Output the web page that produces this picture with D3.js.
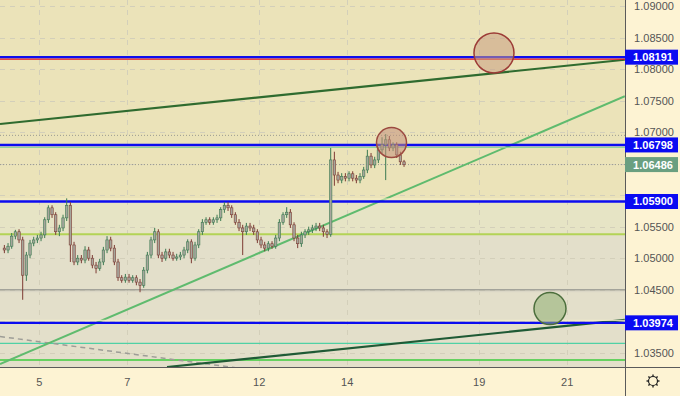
<!DOCTYPE html>
<html>
<head>
<meta charset="utf-8">
<script src="https://cdn.jsdelivr.net/npm/d3@7/dist/d3.min.js"></script>
<style>
body { margin: 0; background: #fdf3d3; }
svg { display: block; font-family: "Liberation Sans", Arial, sans-serif; }
</style>
</head>
<body>
<div id="chart"></div>
<script>
// trading days counted from Mon 5th (weekends skipped)
var dayTicks = [0, 2, 5, 7, 10, 12];
var dayLabels = ['5', '7', '12', '14', '19', '21'];
var priceTicks = [1.035, 1.04, 1.045, 1.05, 1.055, 1.06, 1.065, 1.07, 1.075, 1.08, 1.085, 1.09];

// 2h candles starting Fri 04:00; open of candle k = path[k], close = path[k+1]
var startDay = -0.8333, candleStep = 1 / 12;
var path = [1.0516,1.0513,1.0519,1.0535,1.0542,1.0529,1.0473,1.0505,1.0524,1.0529,
  1.0532,1.0537,1.0561,1.0580,1.0569,1.0542,1.0548,1.0564,1.0584,1.0521,
  1.0494,1.0500,1.0497,1.0513,1.0500,1.0489,1.0484,1.0494,1.0513,1.0529,
  1.0516,1.0494,1.0469,1.0465,1.0470,1.0465,1.0469,1.0462,1.0457,1.0481,
  1.0505,1.0529,1.0542,1.0505,1.0500,1.0510,1.0505,1.0500,1.0502,1.0505,
  1.0513,1.0526,1.0500,1.0521,1.0542,1.0557,1.0561,1.0557,1.0561,1.0564,
  1.0577,1.0584,1.0580,1.0569,1.0557,1.0548,1.0542,1.0551,1.0548,1.0542,
  1.0529,1.0521,1.0516,1.0523,1.0519,1.0532,1.0557,1.0569,1.0573,1.0553,
  1.0532,1.0523,1.0537,1.0542,1.0545,1.0548,1.0551,1.0548,1.0542,1.0538,
  1.0656,1.0632,1.0624,1.0630,1.0627,1.0634,1.0627,1.0624,1.0630,1.0640,
  1.0662,1.0648,1.0656,1.0672,1.0680,1.0688,1.0675,1.0680,1.0664,1.0653,
  1.06486];
var highs = [1.0521,1.0524,1.0540,1.0545,1.0546,1.0534,1.0510,1.0529,1.0534,1.0537,
  1.0542,1.0565,1.0584,1.0584,1.0573,1.0553,1.0569,1.0595,1.0589,1.0526,
  1.0505,1.0505,1.0519,1.0518,1.0505,1.0494,1.0499,1.0518,1.0535,1.0534,
  1.0521,1.0499,1.0473,1.0475,1.0475,1.0473,1.0473,1.0467,1.0486,1.0510,
  1.0534,1.0548,1.0546,1.0510,1.0515,1.0515,1.0510,1.0507,1.0510,1.0518,
  1.0530,1.0530,1.0526,1.0546,1.0562,1.0565,1.0565,1.0565,1.0569,1.0581,
  1.0589,1.0589,1.0584,1.0573,1.0562,1.0553,1.0556,1.0556,1.0553,1.0546,
  1.0534,1.0526,1.0527,1.0527,1.0537,1.0562,1.0573,1.0581,1.0578,1.0557,
  1.0537,1.0542,1.0546,1.0550,1.0553,1.0556,1.0556,1.0553,1.0546,1.0675,
  1.0669,1.0637,1.0635,1.0635,1.0638,1.0638,1.0632,1.0635,1.0645,1.0672,
  1.0667,1.0661,1.0676,1.0692,1.0697,1.0694,1.0684,1.0684,1.0669,1.0656];
var lows = [1.0508,1.0508,1.0515,1.0530,1.0524,1.0434,1.0464,1.0500,1.0519,1.0524,
  1.0527,1.0532,1.0556,1.0564,1.0537,1.0535,1.0543,1.0559,1.0494,1.0489,
  1.0489,1.0492,1.0492,1.0496,1.0484,1.0476,1.0480,1.0489,1.0508,1.0511,
  1.0489,1.0464,1.0461,1.0461,1.0461,1.0461,1.0457,1.0446,1.0453,1.0476,
  1.0500,1.0524,1.0500,1.0494,1.0496,1.0500,1.0496,1.0496,1.0497,1.0500,
  1.0508,1.0492,1.0496,1.0516,1.0537,1.0553,1.0553,1.0553,1.0556,1.0559,
  1.0572,1.0575,1.0564,1.0553,1.0543,1.0505,1.0537,1.0543,1.0537,1.0524,
  1.0516,1.0511,1.0511,1.0515,1.0515,1.0527,1.0553,1.0564,1.0548,1.0527,
  1.0516,1.0518,1.0532,1.0537,1.0540,1.0543,1.0543,1.0534,1.0532,1.0534,
  1.0615,1.0619,1.0619,1.0622,1.0622,1.0622,1.0619,1.0619,1.0626,1.0635,
  1.0643,1.0643,1.0651,1.0667,1.0624,1.0670,1.0670,1.0659,1.0648,1.0645];

var levelPrices = [1.08191, 1.06798, 1.05900, 1.03974];
var lastPrice = 1.06486;
var zoneTop = 1.05900, zoneMid = 1.0538;
var grayLevel = 1.0450, tealLevel = 1.03648, limeLevel = 1.03384, highDotted = 1.0695;

// trend lines as [day, price] pairs
var trendDark = [[-0.891, 1.0713], [13.31, 1.0815]];
var trendLight = [[-0.891, 1.0332], [13.31, 1.0757]];
var trendLow = [[2.905, 1.03273], [13.31, 1.0402]];
var trendDash = [[-0.891, 1.03757], [4.8, 1.0323]];

// circles: [day, price, radius]
var circles = [
  { d: 10.336, p: 1.08257, r: 20, fill: '#c99e82', stroke: '#9c3b36' },
  { d: 8.007, p: 1.06836, r: 15, fill: '#c38f7c', stroke: '#9c4a40' },
  { d: 11.609, p: 1.04200, r: 16, fill: '#8fae72', stroke: '#4b6e3c' }
];

var width = 680, height = 396, plotW = 625, plotH = 367;

var x = d3.scaleLinear().domain([0, 12]).range([39.2, 567.2]);
var y = d3.scaleLinear().domain([1.035, 1.09]).range([352.7, 6.2]);

var svg = d3.select('#chart').append('svg')
    .attr('width', width)
    .attr('height', height);

svg.append('defs').append('clipPath').attr('id', 'plot')
    .append('rect').attr('width', plotW).attr('height', plotH);

var plot = svg.append('g').attr('clip-path', 'url(#plot)');

// background bands
plot.append('rect').attr('x', 0).attr('y', 0).attr('width', plotW).attr('height', y(zoneTop))
    .attr('fill', '#ebe3b9');
plot.append('rect').attr('x', 0).attr('y', y(zoneTop)).attr('width', plotW).attr('height', y(zoneMid) - y(zoneTop))
    .attr('fill', '#e6e4c5');
plot.append('rect').attr('x', 0).attr('y', y(zoneMid)).attr('width', plotW).attr('height', plotH - y(zoneMid))
    .attr('fill', '#e3dfca');

// grid
plot.append('g').selectAll('line').data(priceTicks).enter().append('line')
    .attr('x1', 0).attr('x2', plotW)
    .attr('y1', function (d) { return Math.round(y(d)) + 0.5; })
    .attr('y2', function (d) { return Math.round(y(d)) + 0.5; })
    .attr('stroke', '#d3cfba').attr('stroke-dasharray', '5,5');
plot.append('g').selectAll('line').data(dayTicks).enter().append('line')
    .attr('y1', 0).attr('y2', plotH)
    .attr('x1', function (d) { return Math.round(x(d)) + 0.5; })
    .attr('x2', function (d) { return Math.round(x(d)) + 0.5; })
    .attr('stroke', '#d3cfba').attr('stroke-dasharray', '5,5');

function hline(p, color, w, dash, dy) {
    var yy = y(p) + (dy || 0);
    var l = plot.append('line').attr('x1', 0).attr('x2', plotW).attr('y1', yy).attr('y2', yy)
        .attr('stroke', color).attr('stroke-width', w);
    if (dash) l.attr('stroke-dasharray', dash);
    return l;
}

// secondary levels
hline(zoneMid, '#b3d356', 2);
hline(grayLevel, '#a3a39a', 1.5);
hline(grayLevel, '#d9d6c6', 1, null, 2);
hline(tealLevel, '#4fd1a5', 1.2);
hline(limeLevel, '#3ccc3c', 1.5);
hline(highDotted, '#9a9a90', 1, '1,2');
hline(lastPrice, '#9a9a90', 1, '1,2');

// trend lines
var line = d3.line().x(function (d) { return x(d[0]); }).y(function (d) { return y(d[1]); });
plot.append('path').attr('d', line(trendDash)).attr('fill', 'none')
    .attr('stroke', '#9d9d97').attr('stroke-width', 1.5).attr('stroke-dasharray', '5,4');
plot.append('path').attr('d', line(trendLight)).attr('fill', 'none')
    .attr('stroke', '#5fbb6e').attr('stroke-width', 2);
plot.append('path').attr('d', line(trendDark)).attr('fill', 'none')
    .attr('stroke', '#2f6b2f').attr('stroke-width', 2.2);
plot.append('path').attr('d', line(trendLow)).attr('fill', 'none')
    .attr('stroke', '#1f5a35').attr('stroke-width', 2.2);

// main levels
hline(levelPrices[0], '#e8101a', 1.2, null, 2);
hline(levelPrices[1], '#86d29a', 1, null, 2.5);
hline(levelPrices[2], '#f6efc6', 1, null, -2.5);
hline(levelPrices[3], '#f6efc6', 1, null, -2.5);
levelPrices.forEach(function (p) { hline(p, '#0c0cf0', 2.4); });

// candles
var candles = d3.range(highs.length).map(function (k) {
    return { t: startDay + (k + 0.5) * candleStep, o: path[k], c: path[k + 1], h: highs[k], l: lows[k] };
});
var cg = plot.append('g').selectAll('g').data(candles).enter().append('g');
cg.append('line')
    .attr('x1', function (d) { return x(d.t); }).attr('x2', function (d) { return x(d.t); })
    .attr('y1', function (d) { return y(d.h); }).attr('y2', function (d) { return y(d.l); })
    .attr('stroke', function (d) { return d.c >= d.o ? '#3c7a52' : '#7d3b33'; })
    .attr('stroke-width', 1);
cg.append('rect')
    .attr('x', function (d) { return x(d.t) - 1.2; })
    .attr('width', 2.4)
    .attr('y', function (d) { return y(Math.max(d.o, d.c)); })
    .attr('height', function (d) { return Math.max(1, Math.abs(y(d.o) - y(d.c))); })
    .attr('fill', '#a6a69c')
    .attr('stroke', function (d) { return d.c >= d.o ? '#3c7a52' : '#7d3b33'; })
    .attr('stroke-width', 0.6);

// circles
plot.append('g').selectAll('circle').data(circles).enter().append('circle')
    .attr('cx', function (d) { return x(d.d); })
    .attr('cy', function (d) { return y(d.p); })
    .attr('r', function (d) { return d.r; })
    .attr('fill', function (d) { return d.fill; })
    .attr('fill-opacity', 0.55)
    .attr('stroke', function (d) { return d.stroke; })
    .attr('stroke-width', 1.5);

// panels
svg.append('rect').attr('x', plotW).attr('y', 0).attr('width', width - plotW).attr('height', height).attr('fill', '#fdf3d3');
svg.append('rect').attr('x', 0).attr('y', plotH).attr('width', width).attr('height', height - plotH).attr('fill', '#fdf3d3');
svg.append('line').attr('x1', plotW + 0.5).attr('x2', plotW + 0.5).attr('y1', 0).attr('y2', height).attr('stroke', '#5a5a5a');
svg.append('line').attr('x1', 0).attr('x2', width).attr('y1', plotH + 0.5).attr('y2', plotH + 0.5).attr('stroke', '#5a5a5a');

// price axis labels (the ones hidden behind a price box are skipped)
var boxPrices = levelPrices.concat([lastPrice]);
var shownTicks = priceTicks.filter(function (t) {
    return boxPrices.every(function (p) { return Math.abs(y(t) - y(p)) > 12; });
});
svg.append('g').selectAll('text').data(shownTicks).enter().append('text')
    .attr('x', 654).attr('y', function (d) { return y(d); }).attr('dy', '0.35em')
    .attr('text-anchor', 'middle').attr('font-size', 11).attr('fill', '#555')
    .text(function (d) { return d3.format('.5f')(d); });

// time axis labels
svg.append('g').selectAll('text').data(dayTicks).enter().append('text')
    .attr('x', function (d) { return x(d); }).attr('y', 382).attr('dy', '0.35em')
    .attr('text-anchor', 'middle').attr('font-size', 11).attr('fill', '#555')
    .text(function (d, i) { return dayLabels[i]; });

// level boxes
function priceBox(p, fill) {
    var g = svg.append('g').attr('transform', 'translate(' + plotW + ',' + y(p) + ')');
    g.append('rect').attr('x', 0).attr('y', -7.5).attr('width', 53).attr('height', 15).attr('fill', fill);
    g.append('text').attr('x', 28).attr('dy', '0.36em').attr('text-anchor', 'middle')
        .attr('font-size', 11).attr('font-weight', 'bold').attr('fill', '#fff')
        .text(d3.format('.5f')(p));
}
levelPrices.forEach(function (p) { priceBox(p, '#0a0af2'); });
priceBox(lastPrice, '#6a9f80');

// settings gear
var gear = svg.append('g').attr('transform', 'translate(653,381)');
d3.range(8).forEach(function (i) {
    var a = i * Math.PI / 4;
    gear.append('line').attr('x1', Math.cos(a) * 4).attr('y1', Math.sin(a) * 4)
        .attr('x2', Math.cos(a) * 6.5).attr('y2', Math.sin(a) * 6.5)
        .attr('stroke', '#222').attr('stroke-width', 1.4);
});
gear.append('circle').attr('r', 4.5).attr('fill', '#fdf3d3').attr('stroke', '#222').attr('stroke-width', 1.2);
</script>
</body>
</html>
